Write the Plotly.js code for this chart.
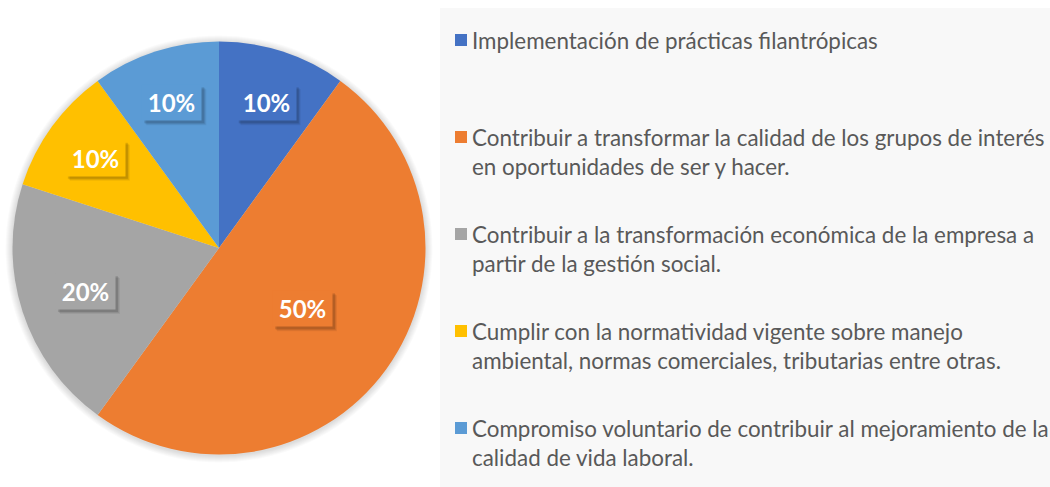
<!DOCTYPE html>
<html><head><meta charset="utf-8">
<script src="https://cdn.plot.ly/plotly-3.0.1.min.js"></script>
<style>html,body{margin:0;padding:0;background:#fff}#chart{width:1050px;height:487px}</style>
</head><body><div id="chart"></div>
<script>
const categories = [
  "Implementación de prácticas filantrópicas",
  "Contribuir a transformar la calidad de los grupos de interés<br>en oportunidades de ser y hacer.",
  "Contribuir a la transformación económica de la empresa a<br>partir de la gestión social.",
  "Cumplir con la normatividad vigente sobre manejo<br>ambiental, normas comerciales, tributarias entre otras.",
  "Compromiso voluntario de contribuir al mejoramiento de la<br>calidad de vida laboral."
];
const values = [10, 50, 20, 10, 10];
const colors = ["#4472C4", "#ED7D31", "#A5A5A5", "#FFC000", "#5B9BD5"];

const W = 1050, H = 487;
const cx = 219, cy = 248, R = 206.5;
const total = values.reduce((a, b) => a + b, 0);

const annotations = [];
const shapes = [];
const px2x = p => p / W, px2y = p => 1 - p / H;

// legend background
shapes.push({type:'rect', xref:'paper', yref:'paper', x0:px2x(440), x1:1, y0:0, y1:px2y(8),
  fillcolor:'#F8F8F8', line:{width:0}, layer:'below'});
// soft pie shadow
for (let i = 7; i >= 1; i--) {
  shapes.push({type:'circle', xref:'paper', yref:'paper',
    x0:px2x(cx-R-i), x1:px2x(cx+R+i), y0:px2y(cy+R+i+1), y1:px2y(cy-R-i+1),
    fillcolor:'rgba(0,0,0,0.02)', line:{width:0}, layer:'below'});
}

// data labels
const boxW = 59, boxH = 35;
let cum = 0;
values.forEach((v, i) => {
  const share = v / total;
  const mid = (cum + v / 2) / total * 2 * Math.PI;
  cum += v;
  const f = 0.8 - 0.6 * share;
  const px = cx + R * f * Math.sin(mid);
  const py = cy - R * f * Math.cos(mid);
  const txt = Math.round(share * 100) + '%';
  // blurred drop shadow
  [[5, 0.06], [4, 0.08], [3, 0.12]].forEach(([o, a]) => {
    shapes.push({type:'rect', xref:'paper', yref:'paper',
      x0:px2x(px - boxW/2 + o - 1), x1:px2x(px + boxW/2 + o), y0:px2y(py + boxH/2 + o), y1:px2y(py - boxH/2 + o - 1),
      fillcolor:'rgba(0,0,0,' + a + ')', line:{width:0}});
  });
  annotations.push({xref:'paper', yref:'paper', x:px2x(px), y:px2y(py), xanchor:'center', yanchor:'middle',
    showarrow:false, width:boxW - 8, height:boxH - 8, borderpad:4,
    text:'<b>'+txt+'</b>', bgcolor:colors[i],
    font:{family:'Lato, sans-serif', size:24, color:'#FFFFFF'}});
});

// legend entries
const legendTop = 40, legendStep = 97, lineH = 29;
categories.forEach((c, i) => {
  const y0 = legendTop + i * legendStep;
  const lines = c.split('<br>');
  shapes.push({type:'rect', xref:'paper', yref:'paper',
    x0:px2x(455), x1:px2x(467), y0:px2y(y0+6), y1:px2y(y0-6), fillcolor:colors[i], line:{width:0}});
  lines.forEach((ln, k) => {
    annotations.push({xref:'paper', yref:'paper', x:px2x(470), y:px2y(y0 + k*lineH),
      xanchor:'left', yanchor:'middle', showarrow:false, text:ln, align:'left',
      font:{family:'Lato, sans-serif', size:22.4, color:'#595959'}});
  });
});

const data = [{
  type:'pie', values:values, labels:categories.map(c => c.replace('<br>',' ')),
  marker:{colors:colors, line:{width:0}},
  sort:false, direction:'clockwise', rotation:0, textinfo:'none', hoverinfo:'label+percent',
  domain:{x:[px2x(cx-R), px2x(cx+R)], y:[px2y(cy+R), px2y(cy-R)]}
}];

const layout = {width:W, height:H, margin:{l:0,r:0,t:0,b:0}, showlegend:false,
  paper_bgcolor:'#FFFFFF', shapes:shapes, annotations:annotations};
Plotly.newPlot('chart', data, layout, {displayModeBar:false, staticPlot:true});
</script></body></html>
